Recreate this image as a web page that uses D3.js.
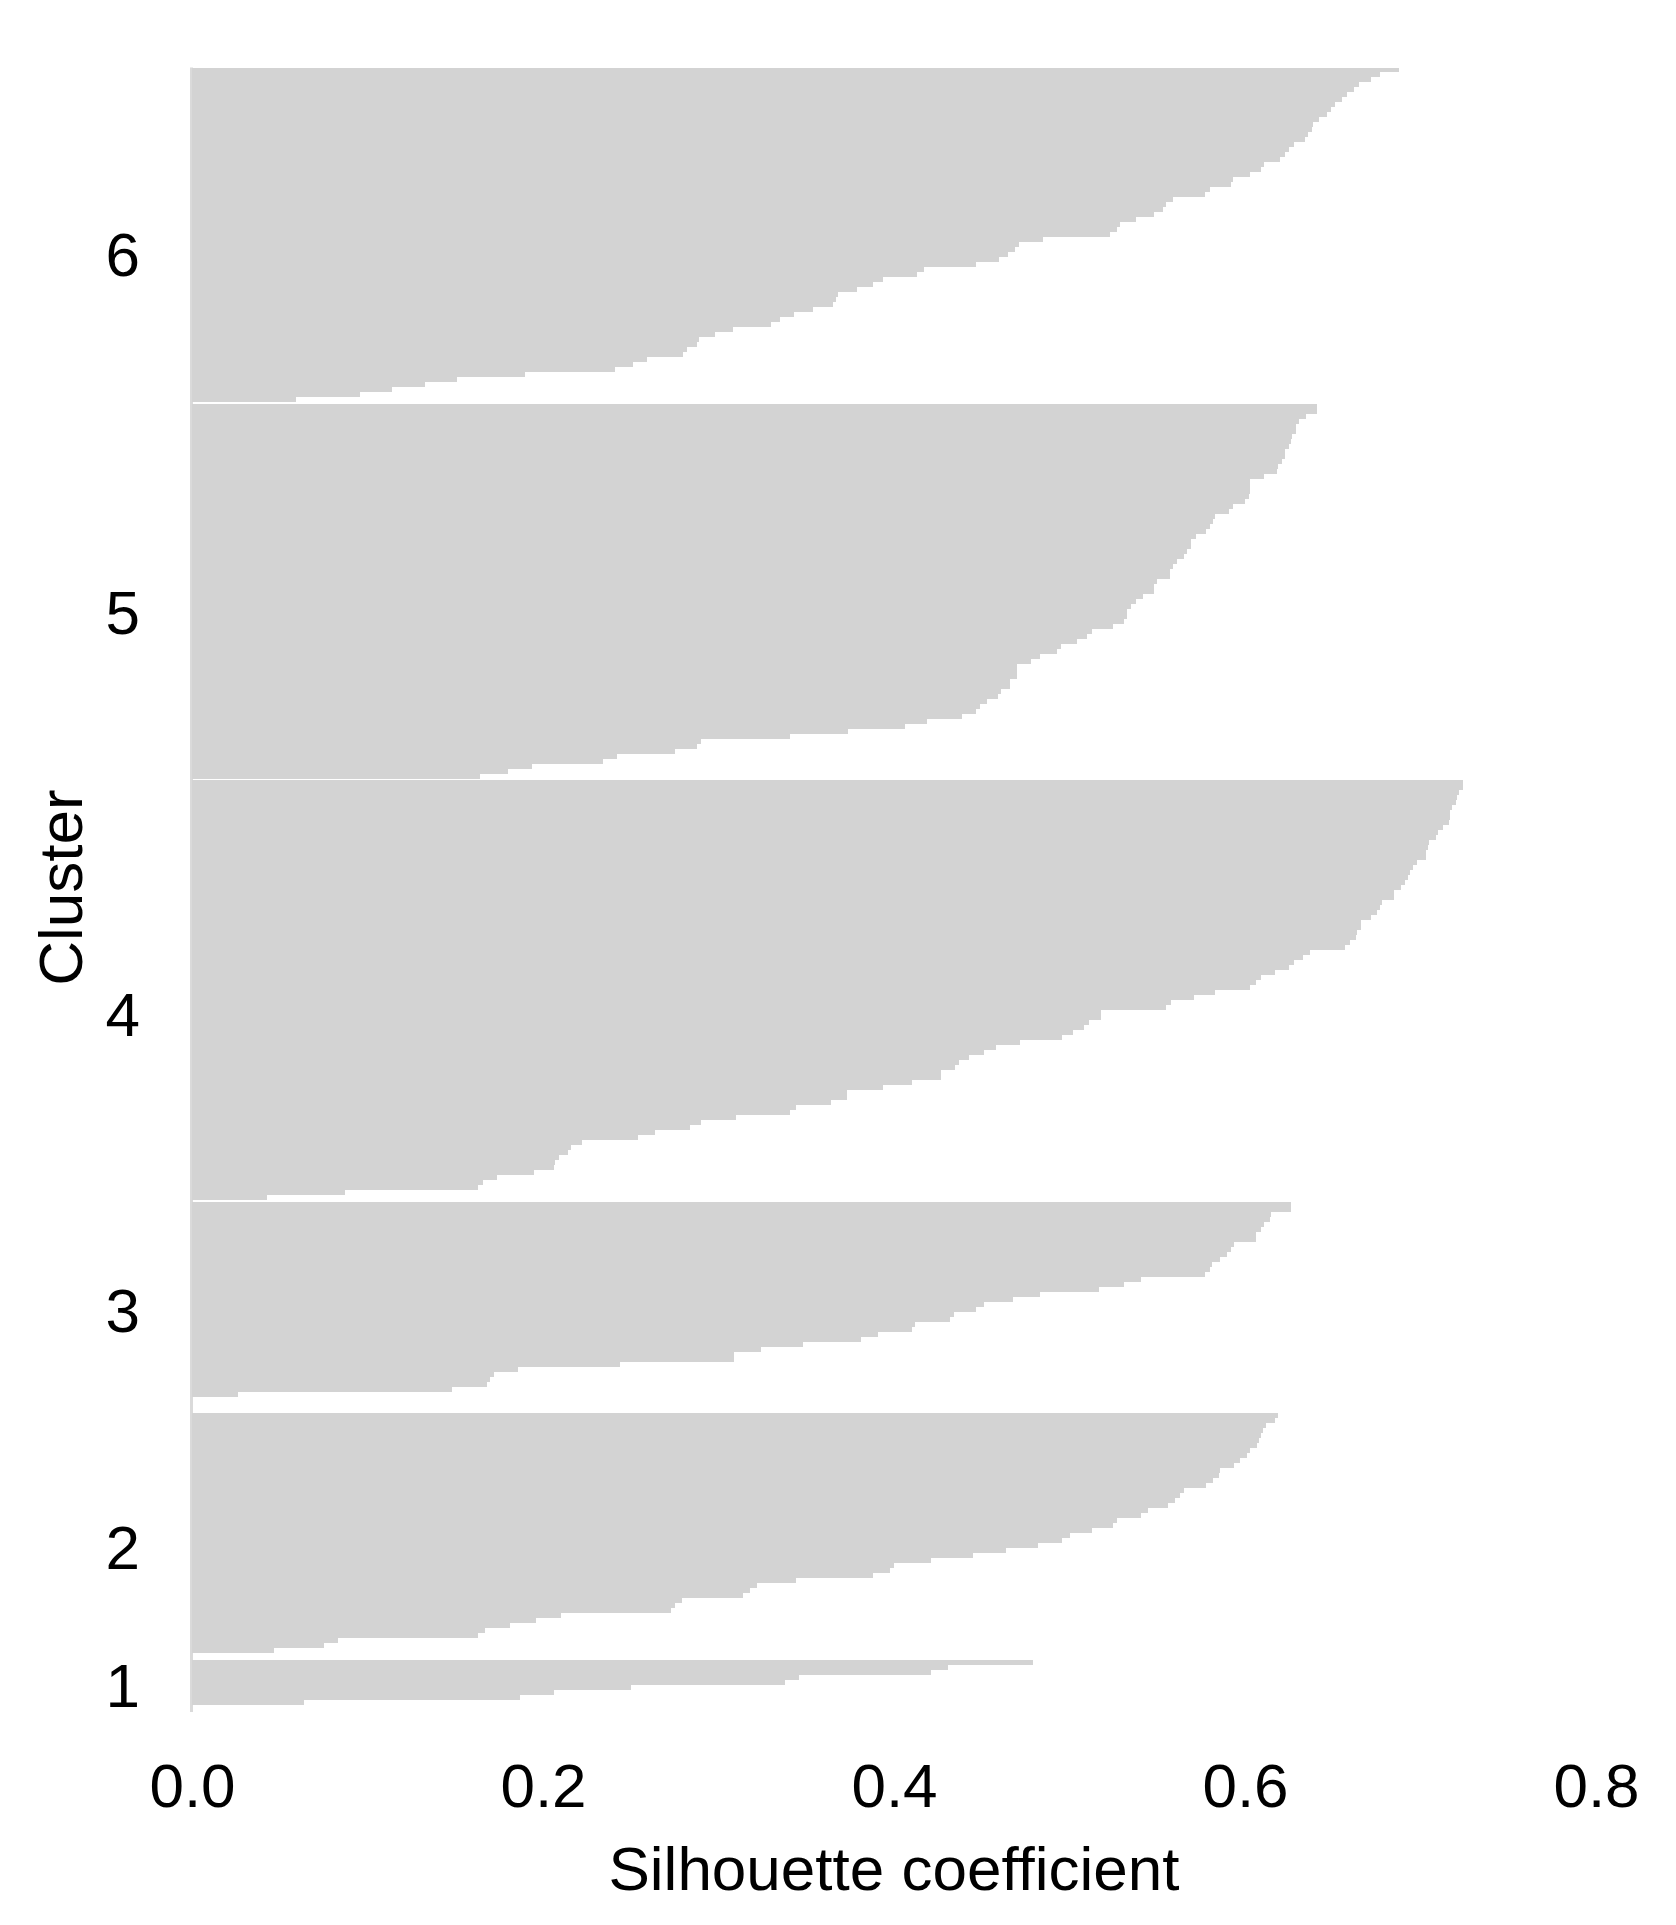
<!DOCTYPE html>
<html>
<head>
<meta charset="utf-8">
<script src="https://cdn.jsdelivr.net/npm/d3@7"></script>
<style>
  body { margin: 0; background: #fff; }
  svg text { font-family: "Liberation Sans", Arial, sans-serif; fill: #000; }
</style>
</head>
<body>
<svg id="chart" width="1676" height="1925"></svg>
<script>
// silhouette width of each observation, sorted high -> low inside its cluster
var cluster6 = [
  0.688, 0.677, 0.672, 0.665, 0.662, 0.658, 0.655, 0.651, 0.649, 0.647,
  0.642, 0.639, 0.638, 0.636, 0.634, 0.628, 0.625, 0.623, 0.620, 0.611,
  0.609, 0.603, 0.593, 0.592, 0.580, 0.577, 0.559, 0.555, 0.553, 0.548,
  0.538, 0.529, 0.527, 0.523, 0.485, 0.471, 0.469, 0.465, 0.460, 0.447,
  0.417, 0.413, 0.394, 0.388, 0.379, 0.368, 0.367, 0.365, 0.354, 0.343,
  0.335, 0.330, 0.308, 0.298, 0.289, 0.288, 0.282, 0.280, 0.259, 0.251,
  0.241, 0.190, 0.151, 0.133, 0.114, 0.096, 0.059
];
var cluster5 = [
  0.641, 0.641, 0.635, 0.631, 0.629, 0.629, 0.627, 0.626, 0.625, 0.623,
  0.623, 0.621, 0.619, 0.618, 0.611, 0.603, 0.603, 0.603, 0.602, 0.600,
  0.593, 0.591, 0.583, 0.582, 0.580, 0.578, 0.572, 0.569, 0.569, 0.567,
  0.565, 0.561, 0.559, 0.557, 0.557, 0.550, 0.548, 0.548, 0.542, 0.538,
  0.535, 0.533, 0.533, 0.531, 0.525, 0.513, 0.510, 0.504, 0.495, 0.493,
  0.483, 0.478, 0.470, 0.470, 0.470, 0.466, 0.466, 0.461, 0.459, 0.453,
  0.449, 0.447, 0.439, 0.419, 0.406, 0.374, 0.341, 0.290, 0.288, 0.275,
  0.242, 0.234, 0.194, 0.180, 0.164
];
var cluster4 = [
  0.724, 0.724, 0.722, 0.721, 0.720, 0.718, 0.717, 0.717, 0.716, 0.713,
  0.710, 0.709, 0.705, 0.704, 0.703, 0.703, 0.698, 0.696, 0.694, 0.693,
  0.691, 0.689, 0.685, 0.685, 0.678, 0.677, 0.675, 0.672, 0.666, 0.666,
  0.664, 0.663, 0.660, 0.657, 0.637, 0.633, 0.628, 0.625, 0.617, 0.609,
  0.606, 0.603, 0.583, 0.571, 0.558, 0.555, 0.518, 0.518, 0.511, 0.508,
  0.502, 0.496, 0.472, 0.458, 0.451, 0.443, 0.437, 0.435, 0.427, 0.427,
  0.410, 0.394, 0.373, 0.373, 0.364, 0.344, 0.341, 0.310, 0.290, 0.284,
  0.264, 0.254, 0.222, 0.216, 0.214, 0.209, 0.207, 0.206, 0.195, 0.174,
  0.166, 0.163, 0.087, 0.043
];
var cluster3 = [
  0.626, 0.626, 0.615, 0.614, 0.611, 0.609, 0.606, 0.606, 0.594, 0.592,
  0.590, 0.586, 0.581, 0.580, 0.577, 0.541, 0.531, 0.517, 0.483, 0.468,
  0.451, 0.447, 0.434, 0.432, 0.412, 0.410, 0.391, 0.381, 0.348, 0.324,
  0.309, 0.309, 0.244, 0.186, 0.172, 0.170, 0.168, 0.148, 0.026,
  -0.010, -0.020, -0.040
];
var cluster2 = [
  0.619, 0.617, 0.612, 0.610, 0.609, 0.608, 0.607, 0.603, 0.601, 0.597,
  0.594, 0.586, 0.585, 0.582, 0.578, 0.565, 0.563, 0.560, 0.556, 0.545,
  0.541, 0.527, 0.525, 0.513, 0.500, 0.496, 0.482, 0.464, 0.445, 0.421,
  0.400, 0.398, 0.388, 0.344, 0.322, 0.318, 0.314, 0.279, 0.275, 0.273,
  0.210, 0.196, 0.181, 0.167, 0.163, 0.083, 0.075, 0.047, -0.020
];
var cluster1 = [0.479, 0.431, 0.421, 0.346, 0.338, 0.250, 0.206, 0.187, 0.064];

var clusterNames = ['6', '5', '4', '3', '2', '1'];
var clusterValues = [cluster6, cluster5, cluster4, cluster3, cluster2, cluster1];
var xTicks = [0, 0.2, 0.4, 0.6, 0.8];

var svg = d3.select('#chart');
svg.append('rect').attr('width', 1676).attr('height', 1925).attr('fill', '#fff');

var gapUnits = 0.3;   // space between clusters, in bar heights

// flatten into rows, remembering where each cluster starts
var rows = [];
var groups = [];
var pos = 0;
clusterValues.forEach(function(vals, k) {
  if (k > 0) pos += gapUnits;
  var positives = vals.filter(function(v) { return v > 0; }).length;
  groups.push({ name: clusterNames[k], start: pos, n: positives });
  vals.forEach(function(v) {
    rows.push({ cluster: clusterNames[k], pos: pos, value: v });
    pos += 1;
  });
});

var x = d3.scaleLinear().domain([0, 0.8]).range([192, 1596]);
var y = d3.scaleLinear().domain([0, pos]).range([67.5, 1704.5]);

// thin baseline at zero
svg.append('line')
  .attr('x1', x(0) - 0.5).attr('x2', x(0) - 0.5)
  .attr('y1', y(0)).attr('y2', 1712)
  .attr('stroke', '#dadada')
  .attr('stroke-width', 3);

svg.append('g')
  .selectAll('rect')
  .data(rows)
  .enter()
  .append('rect')
  .attr('x', x(0))
  .attr('y', function(d) { return y(d.pos); })
  .attr('width', function(d) { return Math.max(0, x(d.value) - x(0)); })
  .attr('height', function(d) { return y(d.pos + 1) - y(d.pos); })
  .attr('fill', '#d3d3d3')
  .attr('shape-rendering', 'crispEdges');

// cluster labels, a bit below the middle of each block
svg.append('g')
  .selectAll('text')
  .data(groups)
  .enter()
  .append('text')
  .attr('x', 140)
  .attr('y', function(d) { return y(d.start + d.n * 0.555); })
  .attr('dy', '0.36em')
  .attr('text-anchor', 'end')
  .attr('font-size', 62)
  .text(function(d) { return d.name; });

// x axis, labels only
var xAxis = d3.axisBottom(x)
  .tickValues(xTicks)
  .tickSize(0)
  .tickFormat(d3.format('.1f'));

var gx = svg.append('g')
  .attr('transform', 'translate(0,1762)')
  .call(xAxis);
gx.select('.domain').remove();
gx.selectAll('text')
  .attr('y', 0)
  .attr('dy', '0.72em')
  .attr('font-size', 62)
  .attr('font-family', '"Liberation Sans", Arial, sans-serif')
  .attr('fill', '#000');

svg.append('text')
  .attr('x', (x(0) + x(0.8)) / 2)
  .attr('y', 1890)
  .attr('text-anchor', 'middle')
  .attr('font-size', 62)
  .text('Silhouette coefficient');

svg.append('text')
  .attr('transform', 'translate(82,887.5) rotate(-90)')
  .attr('text-anchor', 'middle')
  .attr('font-size', 62)
  .text('Cluster');
</script>
</body>
</html>
